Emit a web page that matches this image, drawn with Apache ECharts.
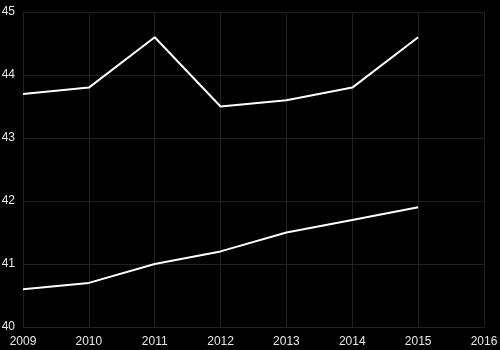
<!DOCTYPE html>
<html>
<head>
<meta charset="utf-8">
<script src="https://cdn.jsdelivr.net/npm/echarts@6/dist/echarts.min.js"></script>
<style>
  html, body { margin: 0; padding: 0; background: #000; }
  #chart { width: 500px; height: 350px; }
</style>
</head>
<body>
<div id="chart"></div>
<script>
// Years along the horizontal axis
const years = [2009, 2010, 2011, 2012, 2013, 2014, 2015];
// Upper series
const upperValues = [43.7, 43.8, 44.6, 43.5, 43.6, 43.8, 44.6];
// Lower series
const lowerValues = [40.6, 40.7, 41.0, 41.2, 41.5, 41.7, 41.9];

const pair = (xs, ys) => xs.map((x, i) => [x, ys[i]]);

const chart = echarts.init(document.getElementById('chart'));
const gridColor = '#202020';
const gridLine = { show: true, lineStyle: { color: gridColor, width: 1 } };
const lineStyle = { color: '#ffffff', width: 2 };
const labelFont = { color: '#e8e8e8', fontSize: 12, fontFamily: 'Liberation Sans, Arial, sans-serif' };

chart.setOption({
  backgroundColor: '#000000',
  animation: false,
  grid: { left: 23, right: 16, top: 12, bottom: 23, containLabel: false, outerBoundsMode: 'none' },
  xAxis: {
    type: 'value',
    min: 2009,
    max: 2016,
    interval: 1,
    axisLine: { show: true, lineStyle: { color: gridColor } },
    axisTick: { show: false },
    splitLine: gridLine,
    axisLabel: Object.assign({ margin: 9, formatter: v => String(v) }, labelFont)
  },
  yAxis: {
    type: 'value',
    min: 40,
    max: 45,
    interval: 1,
    axisLine: { show: true, lineStyle: { color: gridColor } },
    axisTick: { show: false },
    splitLine: gridLine,
    axisLabel: Object.assign({ margin: 8 }, labelFont)
  },
  series: [
    { type: 'line', data: pair(years, upperValues), showSymbol: false, lineStyle, itemStyle: { color: '#fff' } },
    { type: 'line', data: pair(years, lowerValues), showSymbol: false, lineStyle, itemStyle: { color: '#fff' } }
  ]
});
</script>
</body>
</html>
